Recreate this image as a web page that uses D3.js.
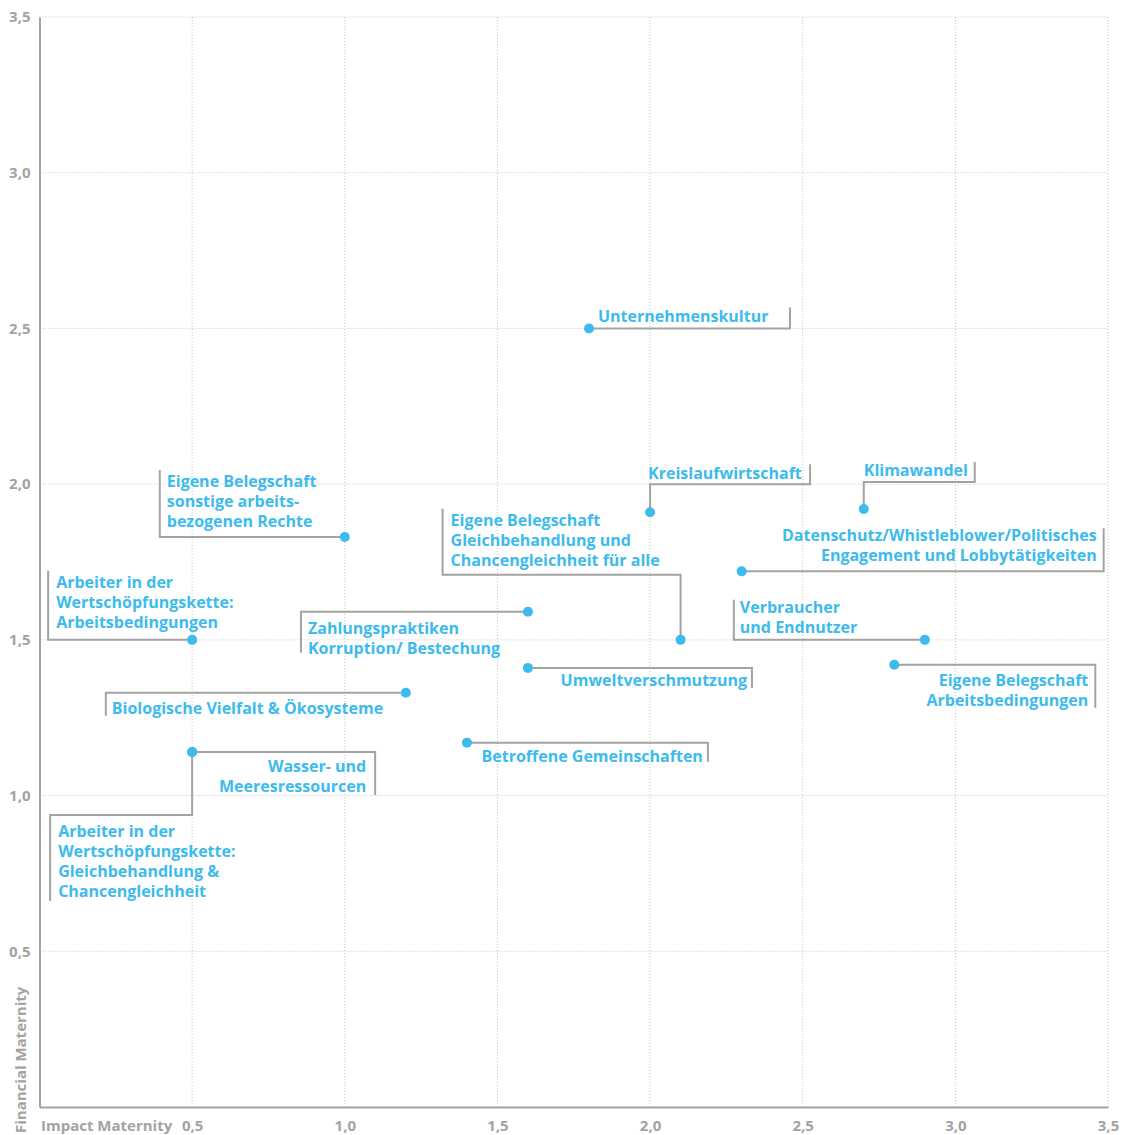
<!DOCTYPE html>
<html>
<head>
<meta charset="utf-8">
<script src="https://cdn.jsdelivr.net/npm/d3@7"></script>
<style>
  body { margin: 0; background: #fff; }
  svg { display: block; font-family: "Open Sans", sans-serif; }
</style>
</head>
<body>
<svg id="chart" width="1122" height="1135"></svg>
<script>
// topic labels (one entry per line of text)
var topics = [
  ["Unternehmenskultur"],
  ["Eigene Belegschaft", "sonstige arbeits-", "bezogenen Rechte"],
  ["Kreislaufwirtschaft"],
  ["Klimawandel"],
  ["Datenschutz/Whistleblower/Politisches", "Engagement und Lobbytätigkeiten"],
  ["Eigene Belegschaft", "Gleichbehandlung und", "Chancengleichheit für alle"],
  ["Arbeiter in der", "Wertschöpfungskette:", "Arbeitsbedingungen"],
  ["Zahlungspraktiken", "Korruption/ Bestechung"],
  ["Verbraucher", "und Endnutzer"],
  ["Umweltverschmutzung"],
  ["Eigene Belegschaft", "Arbeitsbedingungen"],
  ["Biologische Vielfalt & Ökosysteme"],
  ["Betroffene Gemeinschaften"],
  ["Wasser- und", "Meeresressourcen"],
  ["Arbeiter in der", "Wertschöpfungskette:", "Gleichbehandlung &", "Chancengleichheit"]
];
// impact materiality (x) and financial materiality (y)
var impact    = [1.8, 1.0, 2.0, 2.7, 2.3, 2.1, 0.5, 1.6, 2.9, 1.6, 2.8, 1.2, 1.4, 0.5, 0.5];
var financial = [2.5, 1.83, 1.91, 1.92, 1.72, 1.5, 1.5, 1.59, 1.5, 1.41, 1.42, 1.33, 1.17, 1.14, 1.14];

var tickValues = [0.5, 1.0, 1.5, 2.0, 2.5, 3.0, 3.5];
var xTitle = "Impact Maternity";
var yTitle = "Financial Maternity";

// label placement: leader polyline and text offset, in pixels from the dot
var layout = [
  { path: [[0, 0], [201, 0], [201, -21]], anchor: "start", dx: 9, dy: -6 },
  { path: [[0, 0], [-185, 0], [-185, -67]], anchor: "start", dx: -178, dy: -50 },
  { path: [[0, 0], [0, -28], [160, -28], [160, -48]], anchor: "start", dx: -2, dy: -33 },
  { path: [[0, 0], [0, -27], [111, -27], [111, -47]], anchor: "start", dx: 0, dy: -33 },
  { path: [[0, 0], [362, 0], [362, -43]], anchor: "end", dx: 355, dy: -30 },
  { path: [[0, 0], [0, -65], [-238, -65], [-238, -131]], anchor: "start", dx: -230, dy: -114 },
  { path: [[0, 0], [-144, 0], [-144, -69]], anchor: "start", dx: -136, dy: -52 },
  { path: [[0, 0], [-227, 0], [-227, 41]], anchor: "start", dx: -220, dy: 22 },
  { path: [[0, 0], [-191, 0], [-191, -40]], anchor: "start", dx: -185, dy: -27 },
  { path: [[0, 0], [224, 0], [224, 20]], anchor: "end", dx: 219, dy: 18 },
  { path: [[0, 0], [201, 0], [201, 43]], anchor: "end", dx: 194, dy: 21 },
  { path: [[0, 0], [-300, 0], [-300, 23]], anchor: "start", dx: -294, dy: 21 },
  { path: [[0, 0], [241, 0], [241, 19]], anchor: "end", dx: 236, dy: 19 },
  { path: [[0, 0], [183, 0], [183, 43]], anchor: "end", dx: 174, dy: 20 },
  { path: [[0, 0], [0, 63], [-142, 63], [-142, 149]], anchor: "start", dx: -134, dy: 85 }
];

var blue = "#3dbbec";
var grey = "#a3a3a3";

var svg = d3.select("#chart");

var x = d3.scaleLinear().domain([0, 3.5]).range([39.5, 1108]);
var y = d3.scaleLinear().domain([0, 3.5]).range([1107, 17]);

// german decimal comma
var de = d3.formatLocale({ decimal: ",", thousands: ".", grouping: [3], currency: ["", " €"] });
var fmt = de.format(".1f");

// dotted grid
svg.append("g").selectAll("line.v")
  .data(tickValues)
  .enter().append("line")
  .attr("x1", function (d) { return x(d); })
  .attr("x2", function (d) { return x(d); })
  .attr("y1", y(0))
  .attr("y2", y(3.5))
  .style("stroke", "#c4c4c4")
  .style("stroke-dasharray", "1,2");

svg.append("g").selectAll("line.h")
  .data(tickValues)
  .enter().append("line")
  .attr("x1", x(0))
  .attr("x2", x(3.5))
  .attr("y1", function (d) { return y(d); })
  .attr("y2", function (d) { return y(d); })
  .style("stroke", "#c4c4c4")
  .style("stroke-dasharray", "1,2");

// axes
var xAxis = svg.append("g")
  .attr("transform", "translate(0," + y(0) + ")")
  .call(d3.axisBottom(x).tickValues(tickValues).tickFormat(fmt).tickSize(0).tickPadding(13));

var yAxis = svg.append("g")
  .attr("transform", "translate(" + x(0) + ",0)")
  .call(d3.axisLeft(y).tickValues(tickValues).tickFormat(fmt).tickSize(0).tickPadding(9));

[xAxis, yAxis].forEach(function (a) {
  a.select(".domain").style("stroke", grey).style("stroke-width", 2);
  a.selectAll("text")
    .style("font-family", "'Open Sans', sans-serif")
    .style("font-size", "15px")
    .style("font-weight", 700)
    .style("fill", grey);
});

// axis titles
svg.append("text")
  .attr("x", 41)
  .attr("y", 1131)
  .text(xTitle)
  .style("font-size", "15px")
  .style("font-weight", 700)
  .style("fill", grey);

svg.append("text")
  .attr("transform", "translate(26,1133) rotate(-90)")
  .text(yTitle)
  .style("font-size", "15px")
  .style("font-weight", 700)
  .style("fill", grey);

// leader lines
var line = d3.line();
svg.append("g").selectAll("path")
  .data(topics)
  .enter().append("path")
  .attr("d", function (d, i) {
    var px = x(impact[i]), py = y(financial[i]);
    return line(layout[i].path.map(function (p) { return [px + p[0], py + p[1]]; }));
  })
  .style("fill", "none")
  .style("stroke", grey)
  .style("stroke-width", 2);

// dots
svg.append("g").selectAll("circle")
  .data(topics)
  .enter().append("circle")
  .attr("cx", function (d, i) { return x(impact[i]); })
  .attr("cy", function (d, i) { return y(financial[i]); })
  .attr("r", 5)
  .style("fill", blue);

// labels
var labels = svg.append("g").selectAll("text")
  .data(topics)
  .enter().append("text")
  .attr("text-anchor", function (d, i) { return layout[i].anchor; })
  .attr("x", function (d, i) { return x(impact[i]) + layout[i].dx; })
  .attr("y", function (d, i) { return y(financial[i]) + layout[i].dy; })
  .style("font-size", "16px")
  .style("font-weight", 700)
  .style("fill", blue);

labels.each(function (d, i) {
  var t = d3.select(this);
  var x0 = x(impact[i]) + layout[i].dx;
  d.forEach(function (s, k) {
    t.append("tspan")
      .attr("x", x0)
      .attr("dy", k === 0 ? 0 : 20)
      .text(s);
  });
});
</script>
</body>
</html>
